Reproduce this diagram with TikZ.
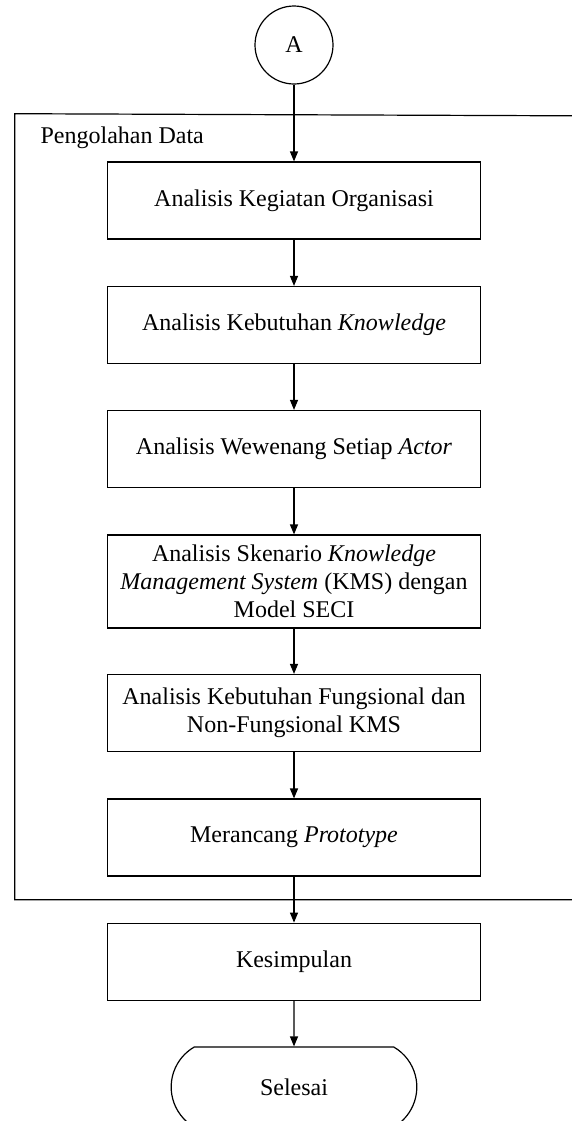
\documentclass[tikz,border=0pt]{standalone}
\usepackage{fontspec}
\setmainfont{Liberation Serif}
\usetikzlibrary{arrows.meta,positioning,shapes.misc}

\begin{document}
\begin{tikzpicture}[x=0.5pt, y=-0.5pt, >={Triangle[length=5pt,width=4pt]},
   font=\fontsize{12}{14}\selectfont, line width=0.6pt,
   box/.style={draw, minimum width=186.3pt, minimum height=38.5pt,
               inner sep=2pt, align=center},
   conn/.style={draw, circle, minimum size=39pt, inner sep=0pt},
   term/.style={draw, rounded rectangle, rounded rectangle arc length=120,
                minimum width=129.5pt, minimum height=40pt}]
  \useasboundingbox (0,0) rectangle (572,1121);
  % kelompok pengolahan data
  \coordinate (ftr) at (572,115.8);
  \coordinate (ftl) at (14.7,113.7);
  \coordinate (fbl) at (14.7,899.7);
  \coordinate (fbr) at (572,899.7);
  \draw (ftr) -- (ftl) -- (fbl) -- (fbr);
  \node[anchor=base west, inner sep=0pt] (grp) at (40,143) {Pengolahan Data};

  \node[conn] (a)  at (294,45)    {A};
  \node[box]  (b1) at (294,200.5) {Analisis Kegiatan Organisasi};
  \node[box]  (b2) at (294,325)   {Analisis Kebutuhan \emph{Knowledge}};
  \node[box]  (b3) at (294,449)   {Analisis Wewenang Setiap \emph{Actor}};
  \node[box, minimum height=46.5pt] (b4) at (294,581.5)
    {Analisis Skenario \emph{Knowledge}\\\emph{Management System} (KMS) dengan\\Model SECI};
  \node[box]  (b5) at (294,713)   {Analisis Kebutuhan Fungsional dan\\Non-Fungsional KMS};
  \node[box]  (b6) at (294,837.5) {Merancang \emph{Prototype}};
  \node[box]  (b7) at (294,961.7) {Kesimpulan};
  \node[term] (e)  at (294,1087)  {Selesai};

  \draw[->] (a) -- (b1);
  \draw[->] (b1) -- (b2);
  \draw[->] (b2) -- (b3);
  \draw[->] (b3) -- (b4);
  \draw[->] (b4) -- (b5);
  \draw[->] (b5) -- (b6);
  \draw[->] (b6) -- (b7);
  \draw[->] (b7) -- (e);
\end{tikzpicture}
\end{document}
